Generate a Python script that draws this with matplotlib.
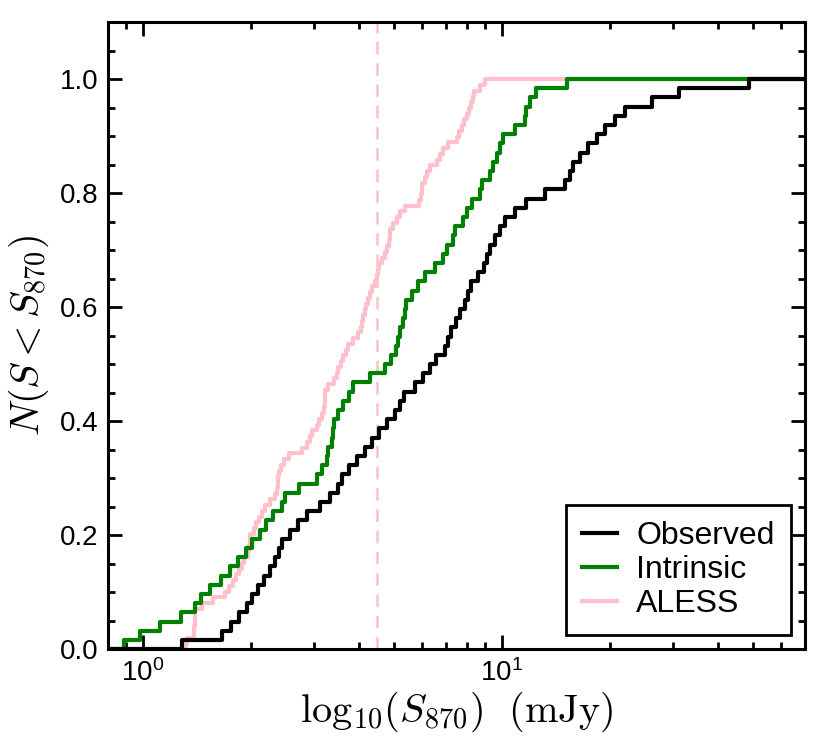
import numpy as np
import matplotlib
matplotlib.use("Agg")
import matplotlib.pyplot as plt
from matplotlib.ticker import MultipleLocator, LogLocator, NullFormatter

plt.rcParams['font.family'] = ['Liberation Sans', 'DejaVu Sans']
plt.rcParams['mathtext.fontset'] = 'cm'

# Sorted 870um flux densities (mJy)
observed = [1.29, 1.66, 1.76, 1.86, 1.95, 2.02, 2.10, 2.18, 2.26, 2.33,
            2.39, 2.44, 2.57, 2.71, 2.86, 3.11, 3.32, 3.50, 3.60, 3.75,
            3.95, 4.15, 4.35, 4.55, 4.80, 5.04, 5.20, 5.35, 5.75, 6.05,
            6.30, 6.55, 6.95, 7.10, 7.22, 7.45, 7.65, 7.90, 8.05, 8.20,
            8.60, 8.95, 9.10, 9.25, 9.55, 9.90, 10.2, 10.9, 11.7, 13.2,
            15.0, 15.5, 15.8, 16.5, 17.4, 18.4, 19.4, 20.7, 22.1, 26.2,
            31.1, 48.7]

intrinsic = [0.885, 0.98, 1.12, 1.28, 1.395, 1.457, 1.537, 1.656, 1.747, 1.843,
             1.945, 2.02, 2.118, 2.21, 2.31, 2.45, 2.49, 2.72, 3.05, 3.15,
             3.26, 3.29, 3.36, 3.39, 3.42, 3.50, 3.61, 3.75, 3.86, 4.29,
             4.73, 4.93, 5.09, 5.15, 5.20, 5.32, 5.38, 5.43, 5.61, 5.85,
             6.11, 6.51, 6.87, 7.02, 7.33, 7.41, 7.81, 7.99, 8.25, 8.70,
             8.80, 9.27, 9.48, 9.68, 9.89, 10.1, 10.9, 11.6, 11.7, 12.0,
             12.5, 15.2]

aless = [1.32, 1.33, 1.39, 1.39, 1.40, 1.40, 1.40, 1.46, 1.57, 1.70,
         1.74, 1.78, 1.82, 1.86, 1.89, 1.91, 1.96, 1.98, 1.99, 1.99,
         2.04, 2.07, 2.11, 2.15, 2.19, 2.26, 2.33, 2.37, 2.38, 2.38,
         2.39, 2.43, 2.47, 2.56, 2.77, 2.86, 2.92, 2.96, 3.05, 3.10,
         3.15, 3.19, 3.21, 3.22, 3.22, 3.28, 3.42, 3.47, 3.50, 3.57,
         3.62, 3.68, 3.73, 3.86, 3.98, 4.06, 4.07, 4.12, 4.17, 4.20,
         4.25, 4.29, 4.36, 4.43, 4.49, 4.52, 4.55, 4.63, 4.72, 4.78,
         4.84, 4.87, 4.88, 4.98, 5.10, 5.20, 5.38, 5.90, 5.97, 5.98,
         5.99, 6.10, 6.18, 6.31, 6.59, 6.72, 6.85, 7.10, 7.52, 7.60,
         7.74, 7.87, 8.00, 8.10, 8.20, 8.30, 8.37, 8.70, 8.98]

series_labels = ['Observed', 'Intrinsic', 'ALESS']
series_colors = ['black', 'green', 'pink']
cut_flux = 4.5

fig = plt.figure(figsize=(8.3, 7.47), dpi=100)
ax = fig.add_axes([0.130, 0.131, 0.840, 0.8395])

def cdf_step(vals):
    v = np.sort(np.asarray(vals, dtype=float))
    n = len(v)
    xs = np.r_[0.5, v, 200.0]
    ys = np.r_[0.0, np.arange(1, n + 1) / n, 1.0]
    return xs, ys

handles = []
for data, lab, col, z in zip([observed, intrinsic, aless], series_labels,
                             series_colors, [4, 3, 2]):
    xs, ys = cdf_step(data)
    h, = ax.step(xs, ys, where='post', color=col, lw=3.0, label=lab, zorder=z)
    handles.append(h)

ax.axvline(cut_flux, color='pink', ls=(0, (5, 3.5)), lw=1.8, zorder=1)

ax.set_xscale('log')
ax.set_xlim(0.8, 70)
ax.set_ylim(0, 1.1)
ax.set_yticks(np.arange(0, 1.01, 0.2))
ax.set_yticklabels([f'{v:.1f}' for v in np.arange(0, 1.01, 0.2)])
ax.yaxis.set_minor_locator(MultipleLocator(0.05))
ax.xaxis.set_major_locator(LogLocator(base=10, numticks=10))
ax.xaxis.set_minor_locator(LogLocator(base=10, subs=np.arange(2, 10), numticks=20))
ax.xaxis.set_minor_formatter(NullFormatter())

ax.tick_params(which='both', direction='in', top=True, right=True,
               width=2, labelsize=20)
ax.tick_params(which='major', length=10, pad=7)
ax.tick_params(which='minor', length=5)
for s in ax.spines.values():
    s.set_linewidth(2.2)

ax.set_xlabel(r'$\mathrm{log}_{10}(S_{870})\ \ \mathrm{(mJy)}$', fontsize=29, labelpad=2)
ax.set_ylabel(r'$N(S<S_{870})$', fontsize=29, labelpad=6)

leg = ax.legend(handles=handles, loc='lower right', fontsize=23,
                frameon=True, fancybox=False, framealpha=1,
                edgecolor='black', borderaxespad=0.45, handlelength=1.1,
                handletextpad=0.6, labelspacing=0.12, borderpad=0.5)
leg.get_frame().set_linewidth(2)
for l in leg.get_lines():
    l.set_linewidth(3.0)

fig.savefig('out.png', dpi=100)
